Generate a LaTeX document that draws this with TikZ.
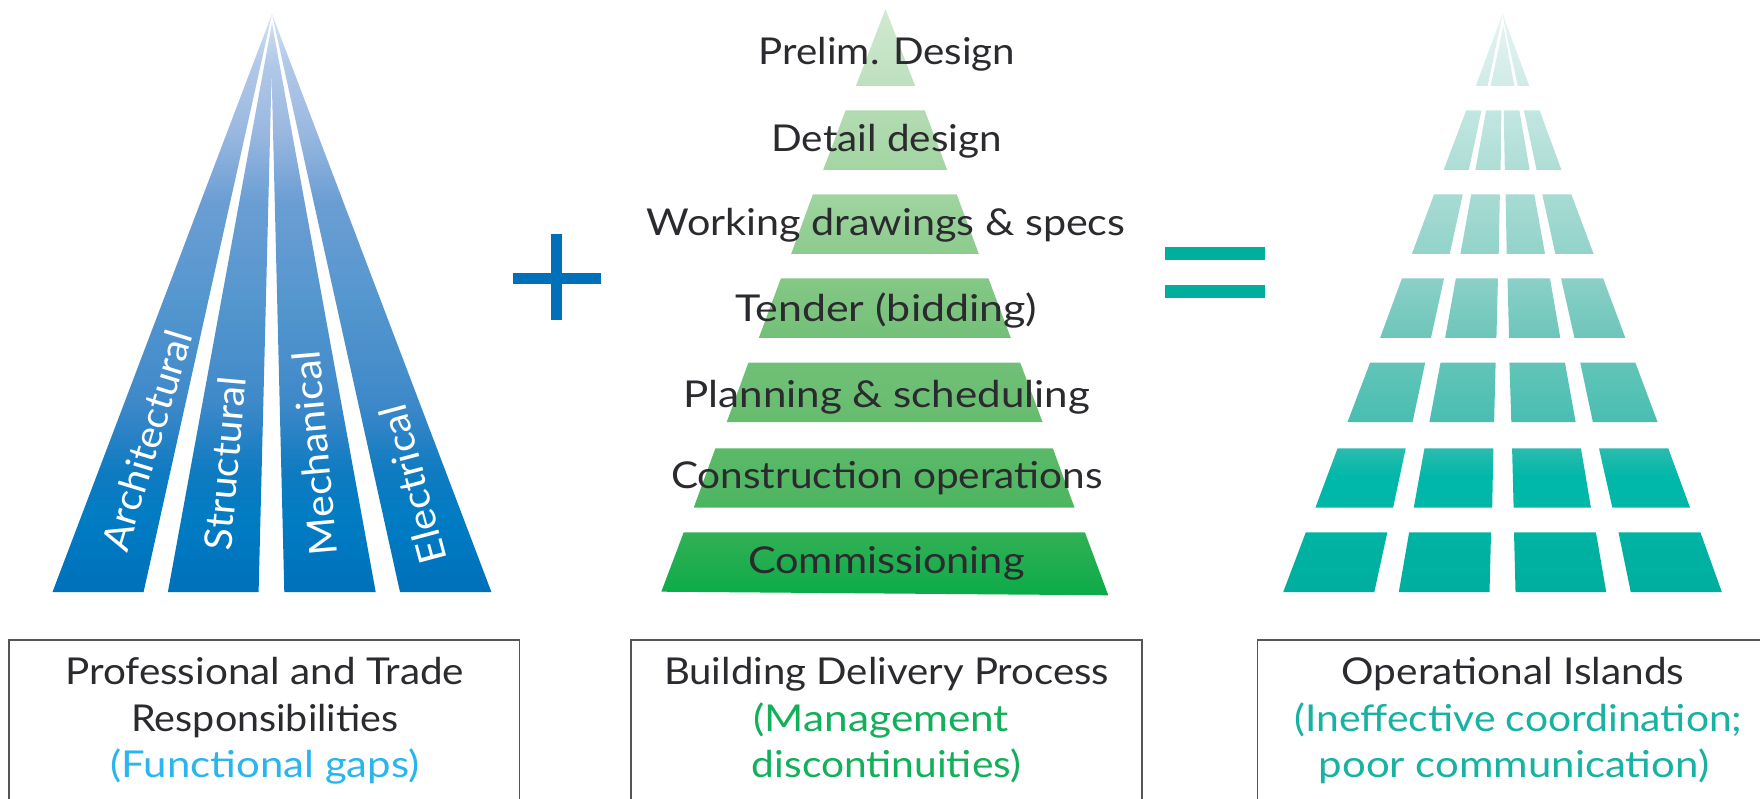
\documentclass[tikz,border=0pt]{standalone}
\usepackage{fontspec}
\usepackage{graphicx}
\setmainfont{Lato}
\definecolor{txtdark}{HTML}{2B2A2E}
\definecolor{txtblue}{HTML}{29B6EE}
\definecolor{txtgreen}{HTML}{12B05A}
\definecolor{txtteal}{HTML}{18B2A2}
\definecolor{plusblue}{HTML}{0070BB}
\definecolor{eqteal}{HTML}{00AE9D}
\definecolor{boxline}{HTML}{555555}
\pgfdeclareverticalshading{blueramp}{100bp}{
 rgb(0bp)=(0,.439,.733);
 rgb(25.75bp)=(0,.439,.733);
 rgb(31.67bp)=(0,.486,.765);
 rgb(35.83bp)=(.059,.482,.757);
 rgb(41.67bp)=(.247,.537,.788);
 rgb(50bp)=(.33,.59,.81);
 rgb(58.33bp)=(.42,.62,.83);
 rgb(64.17bp)=(.604,.722,.878);
 rgb(70bp)=(.70,.79,.91);
 rgb(73.92bp)=(.84,.89,.955);
 rgb(100bp)=(.84,.89,.955)}
\pgfdeclareverticalshading{greenramp}{100bp}{
 rgb(0bp)=(.043,.671,.286);
 rgb(25.5bp)=(.043,.671,.286);
 rgb(30.75bp)=(.2,.69,.333);
 rgb(32.75bp)=(.298,.71,.376);
 rgb(37.75bp)=(.357,.729,.412);
 rgb(39.92bp)=(.4,.737,.431);
 rgb(44.83bp)=(.439,.753,.467);
 rgb(46.92bp)=(.451,.753,.471);
 rgb(51.83bp)=(.518,.784,.525);
 rgb(53.92bp)=(.549,.796,.553);
 rgb(58.83bp)=(.627,.831,.627);
 rgb(60.92bp)=(.639,.835,.635);
 rgb(65.83bp)=(.702,.859,.698);
 rgb(67.92bp)=(.745,.878,.749);
 rgb(74.33bp)=(.816,.914,.816);
 rgb(100bp)=(.816,.914,.816)}
\pgfdeclareverticalshading{tealramp}{100bp}{
 rgb(0bp)=(0,.682,.62);
 rgb(25.75bp)=(0,.682,.62);
 rgb(30.75bp)=(0,.702,.639);
 rgb(32.75bp)=(0,.718,.659);
 rgb(35.42bp)=(0,.722,.663);
 rgb(37.75bp)=(.173,.733,.678);
 rgb(39.92bp)=(.286,.745,.694);
 rgb(44.83bp)=(.384,.769,.725);
 rgb(46.92bp)=(.431,.773,.729);
 rgb(51.83bp)=(.541,.816,.78);
 rgb(53.92bp)=(.573,.827,.792);
 rgb(58.83bp)=(.655,.859,.827);
 rgb(60.92bp)=(.682,.867,.839);
 rgb(65.83bp)=(.761,.902,.882);
 rgb(67.92bp)=(.816,.922,.906);
 rgb(73.92bp)=(.902,.957,.949);
 rgb(100bp)=(.902,.957,.949)}
% width-fitted line of text
\newcommand\fw[2]{\resizebox{#1pt}{\height}{#2}}
\newcommand\gq[6]{({620+#3/2.904},#1)--({620+#4/2.904},#1)--({620+#6/2.904},#2)--({620+#5/2.904},#2)--cycle}
\newcommand\tq[6]{({1160+#3/2.613},#1)--({1160+#4/2.613},#1)--({1160+#6/2.613},#2)--({1160+#5/2.613},#2)--cycle}
\tikzset{
  lab/.style={anchor=base,inner sep=0pt,outer sep=0pt,font=\fontsize{37}{44}\selectfont,text=txtdark},
  sub/.style={lab},
  striplab/.style={anchor=base west,inner sep=0pt,outer sep=0pt,font=\fontsize{38.5}{44}\selectfont,text=white},
  framebox/.style={draw=boxline,line width=1.6pt}
}
\begin{document}
\begin{tikzpicture}[x=1pt,y=-1pt]
\useasboundingbox (0,-1) rectangle (1760,798);
% left fan
\begin{scope}
\clip (272,13)--(143.6,591)--(52.5,591)--cycle
      (272,22)--(375.7,591)--(284.3,591)--(271.6,72)--(258.6,591)--(167.9,591)--cycle
      (272,13)--(491.4,591)--(400,591)--cycle;
\shade[shading=blueramp] (0,0) rectangle (1760,600);
\end{scope}
% middle stack
\begin{scope}
\clip ({620+771/2.904},8)--({620+857/2.904},85)--({620+685/2.904},85)--cycle
      \gq{109.5}{169}{655}{885}{590}{950}
      \gq{193.5}{253}{560}{978}{497}{1042}
      \gq{277.5}{337}{467}{1070}{403}{1135}
      \gq{361.5}{421}{373}{1162}{310}{1227}
      \gq{447.3}{506.7}{277}{1257}{214}{1320}
      ({620+185/2.904},531.3)--({620+1350/2.904},531.3)--({620+1418/2.904},594.3)--({620+120/2.904},590.7)--cycle;
\shade[shading=greenramp] (0,0) rectangle (1760,600);
\end{scope}
% right grid
\begin{scope}
\clip ({1160+892/2.613},20)--({1160+856/2.613},85)--({1160+825/2.613},85)--({1160+895/2.613},13)--cycle
      ({1160+897/2.613},25)--({1160+926/2.613},85)--({1160+864/2.613},85)--cycle
      ({1160+898/2.613},20)--({1160+895/2.613},13)--({1160+965/2.613},85)--({1160+935/2.613},85)--cycle
      \tq{109.5}{169}{800}{840}{741}{807}\tq{109.5}{169}{852}{892}{824}{890}\tq{109.5}{169}{898}{939}{901}{966}\tq{109.5}{169}{951}{992}{984}{1049}
      \tq{193.5}{253}{716}{791}{658}{757}\tq{193.5}{253}{813}{888}{785}{885}\tq{193.5}{253}{903}{978}{906}{1006}\tq{193.5}{253}{999}{1075}{1033}{1133}
      \tq{277.5}{337}{632}{742}{575}{708}\tq{277.5}{337}{773}{883}{745}{879}\tq{277.5}{337}{908}{1019}{912}{1046}\tq{277.5}{337}{1048}{1158}{1083}{1216}
      \tq{361.5}{421}{549}{693}{490}{660}\tq{361.5}{421}{733}{877}{704}{873}\tq{361.5}{421}{913}{1058}{918}{1086}\tq{361.5}{421}{1098}{1242}{1131}{1300}
      \tq{447.3}{506.7}{464}{642}{406}{609}\tq{447.3}{506.7}{691}{871}{663}{868}\tq{447.3}{506.7}{920}{1100}{924}{1126}\tq{447.3}{506.7}{1147}{1328}{1182}{1385}
      \tq{531.3}{591}{381}{594}{322}{560}\tq{531.3}{591}{651}{865}{624}{861}\tq{531.3}{591}{925}{1139}{929}{1166}\tq{531.3}{591}{1198}{1412}{1230}{1468};
\shade[shading=tealramp] (0,0) rectangle (1760,600);
\end{scope}
% operators
\fill[plusblue] (512.5,272) rectangle (600.5,283);
\fill[plusblue] (551,233.5) rectangle (562,319.5);
\fill[eqteal] (1165,246) rectangle (1265,258.7);
\fill[eqteal] (1165,284) rectangle (1265,296.7);
% strip labels
\node[striplab,rotate=73] (arch) at (127,552) {\fw{227}{Architectural}};
\node[striplab,rotate=85] (stru) at (231,550) {\fw{174}{Structural}};
\node[striplab,rotate=95] (mech) at (337.5,553) {\fw{205}{Mechanical}};
\node[striplab,rotate=105] (elec) at (447,558) {\fw{162}{Electrical}};
% stack labels
\node[lab] (s1) at (887,63.3) {\fw{256.5}{Prelim. Design}};
\node[lab] (s2) at (886.7,151) {\fw{230.5}{Detail design}};
\node[lab] (s3) at (886.2,235) {\fw{478.6}{Working drawings \& specs}};
\node[lab] (s4) at (886.4,321) {\fw{302}{Tender (bidding)}};
\node[lab] (s5) at (886.7,406) {\fw{406.5}{Planning \& scheduling}};
\node[lab] (s6) at (886.9,487.3) {\fw{431.8}{Construction operations}};
\node[lab] (s7) at (886.3,572.7) {\fw{276.6}{Commissioning}};
% frames (open at the bottom)
\draw[framebox] (9,800)--(9,639)--(519.5,639)--(519.5,800);
\draw[framebox] (631,800)--(631,639)--(1142,639)--(1142,800);
\draw[framebox] (1257.5,800)--(1257.5,639)--(1761,639);
% captions
\node[lab] (c11) at (264.7,683.3) {\fw{399}{Professional and Trade}};
\node[lab] (c12) at (265,730) {\fw{267}{Responsibilities}};
\node[sub,text=txtblue] (c13) at (265,776.7) {\fw{309}{(Functional gaps)}};
\node[lab] (c21) at (886.5,683.3) {\fw{445}{Building Delivery Process}};
\node[sub,text=txtgreen] (c22) at (881.3,730) {\fw{255.5}{(Management}};
\node[sub,text=txtgreen] (c23) at (886.5,776.7) {\fw{269}{discontinuities)}};
\node[lab] (c31) at (1513,683.3) {\fw{342.5}{Operational Islands}};
\node[sub,text=txtteal] (c32) at (1518.6,730) {\fw{447.8}{(Ineffective coordination;}};
\node[sub,text=txtteal] (c33) at (1513.9,776.7) {\fw{390.2}{poor communication)}};
\end{tikzpicture}
\end{document}
